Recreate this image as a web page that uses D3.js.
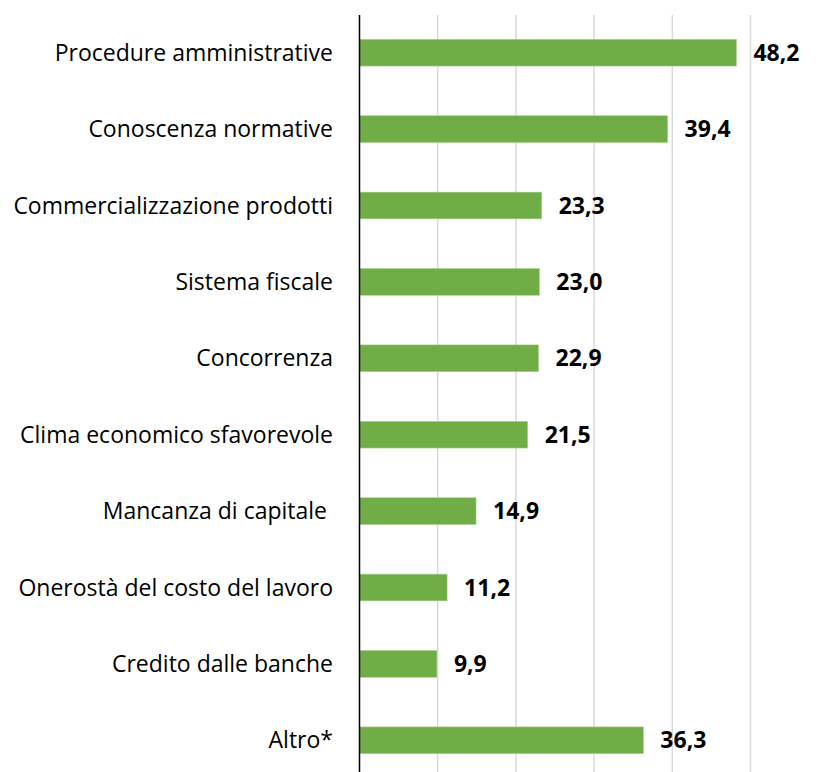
<!DOCTYPE html>
<html lang="it">
<head>
    <meta charset="UTF-8">
    <title>Ostacoli</title>
    <script src="https://d3js.org/d3.v7.min.js"></script>
    <style>
        body, html {
          margin: 0;
          padding: 0;
          background: #fff;
          overflow: hidden;
        }
        svg { display: block; }
        .cat { font: 23px "Open Sans", Lato, sans-serif; fill: #000; }
        .val { font: bold 23px "Open Sans", Lato, sans-serif; fill: #000; }
    </style>
</head>
<body>
<svg></svg>
<script>
    const categories = [
      "Procedure amministrative",
      "Conoscenza normative",
      "Commercializzazione prodotti",
      "Sistema fiscale",
      "Concorrenza",
      "Clima economico sfavorevole",
      "Mancanza di capitale ",
      "Onerostà del costo del lavoro",
      "Credito dalle banche",
      "Altro*"
    ];
    const values = [48.2, 39.4, 23.3, 23.0, 22.9, 21.5, 14.9, 11.2, 9.9, 36.3];
    const gridTicks = [10, 20, 30, 40, 50];

    const width = 816, height = 772;

    const svg = d3.select("svg")
      .attr("width", width)
      .attr("height", height);

    const x = d3.scaleLinear()
      .domain([0, 50])
      .range([359.5, 750.5]);

    const y = d3.scaleBand()
      .domain(categories)
      .range([14.5, 778.5])
      .paddingInner(0.65)
      .paddingOuter(0.325);

    // vertical gridlines
    svg.append("g")
      .selectAll("line")
      .data(gridTicks)
      .enter().append("line")
        .attr("x1", d => x(d))
        .attr("x2", d => x(d))
        .attr("y1", 15)
        .attr("y2", height)
        .attr("stroke", "#d9d9d9")
        .attr("stroke-width", 1.5);

    // bars
    svg.append("g")
      .selectAll("rect")
      .data(values)
      .enter().append("rect")
        .attr("x", x(0))
        .attr("y", (d, i) => y(categories[i]))
        .attr("width", d => x(d) - x(0))
        .attr("height", y.bandwidth())
        .attr("fill", "#70ad47")
        .attr("stroke", "#a9d18e")
        .attr("stroke-width", 0.6);

    // value labels
    svg.append("g")
      .selectAll("text")
      .data(values)
      .enter().append("text")
        .attr("class", "val")
        .attr("x", d => x(d) + 17)
        .attr("y", (d, i) => y(categories[i]) + y.bandwidth() / 2)
        .attr("dy", "0.35em")
        .text(d => d.toFixed(1).replace(".", ","));

    // category labels
    svg.append("g")
      .selectAll("text")
      .data(categories)
      .enter().append("text")
        .attr("class", "cat")
        .attr("x", 333)
        .attr("y", d => y(d) + y.bandwidth() / 2)
        .attr("dy", "0.35em")
        .attr("text-anchor", "end")
        .attr("xml:space", "preserve")
        .style("white-space", "pre")
        .text(d => d);

    // vertical axis line
    svg.append("line")
      .attr("x1", x(0))
      .attr("x2", x(0))
      .attr("y1", 15)
      .attr("y2", height)
      .attr("stroke", "#000")
      .attr("stroke-width", 1.5);
</script>
</body>
</html>
